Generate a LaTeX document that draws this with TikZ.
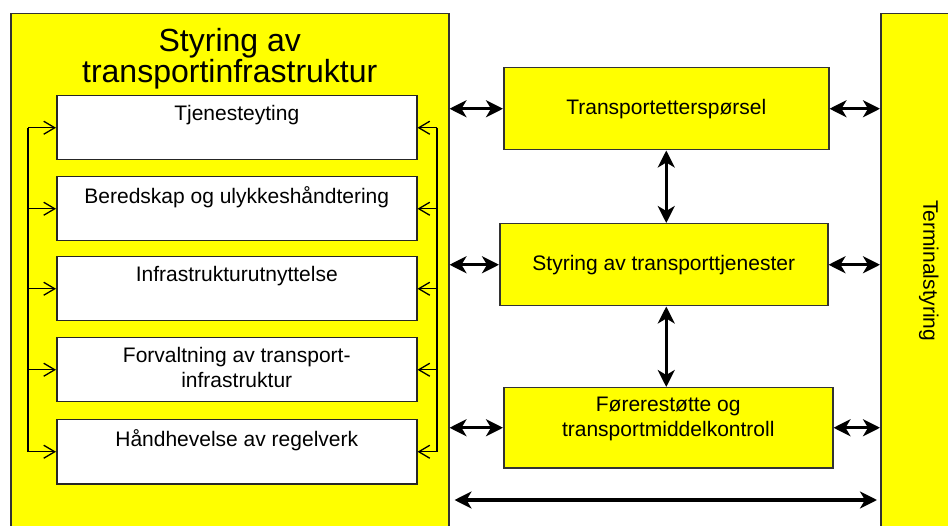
\documentclass[tikz,border=0pt]{standalone}
\usepackage{fontspec}
\setmainfont{Liberation Sans}
\usetikzlibrary{arrows.meta}

\definecolor{boxyellow}{RGB}{255,255,0}

\tikzset{
  bigbox/.style={draw=black!80, line width=1.5pt, fill=boxyellow, anchor=north west, inner sep=0pt},
  subbox/.style={draw=black!85, line width=1.5pt, fill=white, anchor=north west,
                 minimum width=360, minimum height=64, inner sep=0pt},
  midbox/.style={draw=black!80, line width=1.5pt, fill=boxyellow, anchor=north west, inner sep=0pt},
  subtext/.style={anchor=north, yshift=-10pt, inner sep=0pt, align=center},
  titletext/.style={anchor=north, yshift=-15pt, inner sep=0pt, align=center,
                    font=\fontsize{32}{29}\selectfont},
  biarrow/.style={line width=3.5pt, {Stealth[length=17pt,width=17pt,inset=5pt]}-{Stealth[length=17pt,width=17pt,inset=5pt]}},
  bracket/.style={line width=1.3pt},
  feed/.style={bracket, -{Straight Barb[length=11pt,width=13pt]}}
}

\begin{document}
\begin{tikzpicture}[x=1pt,y=-1pt,font=\fontsize{21}{25}\selectfont]

    \useasboundingbox (0,0) rectangle (948,526);
    \clip (0,0) rectangle (948,526);

    % the two large frames
    \path   (10,13)  node (sti) [bigbox, minimum width=438, minimum height=530,
                                 label={[titletext]north:Styring av\\transportinfrastruktur}] {}
            (880,13) node (term) [bigbox, minimum width=96, minimum height=514]
                                 {\rotatebox{-90}{Terminalstyring}};

    % inner functions
    \path   (56,95)  node (tje)  [subbox, label={[subtext]north:Tjenesteyting}] {}
            (56,176) node (ber)  [subbox, label={[subtext]north:Beredskap og ulykkeshåndtering}] {}
            (56,256) node (inf)  [subbox, label={[subtext]north:Infrastrukturutnyttelse}] {}
            (56,337) node (forv) [subbox, label={[subtext]north:Forvaltning av transport-\\infrastruktur}] {}
            (56,419) node (hand) [subbox, label={[subtext]north:Håndhevelse av regelverk}] {};

    % middle column
    \path   (503,67)  node (tet) [midbox, minimum width=325, minimum height=82] {Transportetterspørsel}
            (499,223) node (stt) [midbox, minimum width=328, minimum height=82] {Styring av transporttjenester}
            (503,387) node (fmk) [midbox, minimum width=329, minimum height=80,
                                  label={[subtext]north:Førerestøtte og\\transportmiddelkontroll}] {};

    % feedback brackets
    \coordinate (lx) at (28,0);
    \coordinate (rx) at (437,0);
    \coordinate (bot) at (0,500);
    \draw[bracket] (tje.west -| lx) -- (hand.west -| lx);
    \draw[bracket] (tje.east -| rx) -- (hand.east -| rx);
    \foreach \b in {tje,ber,inf,forv,hand} {
        \draw[feed] (\b.west -| lx) -- (\b.west);
        \draw[feed] (\b.east -| rx) -- (\b.east);
    }

    % thick double arrows
    \draw[biarrow] (sti.east |- tet.west) -- (tet.west);
    \draw[biarrow] (tet.east) -- (tet.east -| term.west);
    \draw[biarrow] (sti.east |- stt.west) -- (stt.west);
    \draw[biarrow] (stt.east) -- (stt.east -| term.west);
    \draw[biarrow] (sti.east |- fmk.west) -- (fmk.west);
    \draw[biarrow] (fmk.east) -- (fmk.east -| term.west);
    \draw[biarrow] (tet.south) -- (tet.south |- stt.north);
    \draw[biarrow] (tet.south |- stt.south) -- (tet.south |- fmk.north);
    \draw[biarrow, shorten <=5pt, shorten >=3pt] (sti.east |- bot) -- (term.west |- bot);

\end{tikzpicture}
\end{document}
